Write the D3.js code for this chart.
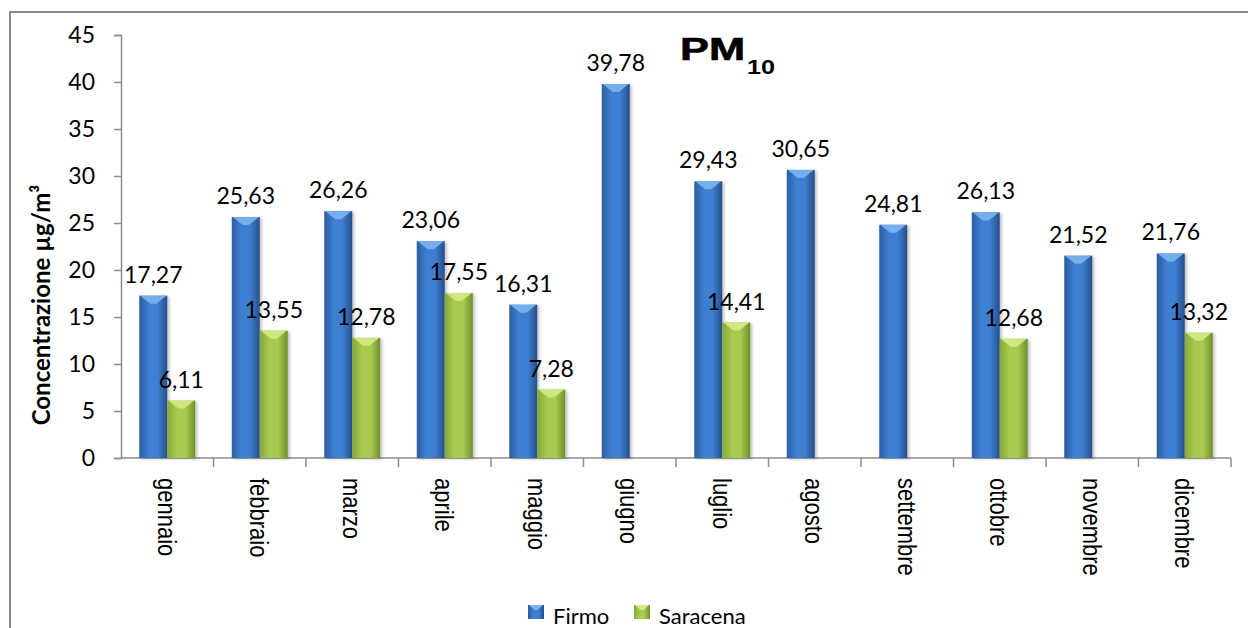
<!DOCTYPE html>
<html>
<head>
<meta charset="utf-8">
<script src="https://cdn.jsdelivr.net/npm/d3@7/dist/d3.min.js"></script>
<style>
  html, body { margin: 0; padding: 0; background: #fff; }
  svg { display: block; }
</style>
</head>
<body>
<script>
// Monthly PM10 concentrations (µg/m³) at two stations
const months = ["gennaio", "febbraio", "marzo", "aprile", "maggio", "giugno",
                "luglio", "agosto", "settembre", "ottobre", "novembre", "dicembre"];
const seriesNames = ["Firmo", "Saracena"];
const firmo = [17.27, 25.63, 26.26, 23.06, 16.31, 39.78, 29.43, 30.65, 24.81, 26.13, 21.52, 21.76];
const saracena = [6.11, 13.55, 12.78, 17.55, 7.28, null, 14.41, null, null, 12.68, null, 13.32];
const yTicks = [0, 5, 10, 15, 20, 25, 30, 35, 40, 45];

const W = 1248, H = 628;
const svg = d3.select("body").append("svg").attr("width", W).attr("height", H);

// gradients giving the bars a rounded, lit look
const defs = svg.append("defs");
const palettes = {
  Firmo:    { edgeL: "#2c5d9e", mid: "#3e7fd2", edgeR: "#264f8a", top: "#7db4ee" },
  Saracena: { edgeL: "#86a83a", mid: "#a8cb50", edgeR: "#6f8f2c", top: "#d3ea86" }
};
seriesNames.forEach(s => {
  const p = palettes[s];
  const g = defs.append("linearGradient").attr("id", "grad-" + s)
    .attr("x1", "0").attr("x2", "1").attr("y1", "0").attr("y2", "0");
  g.append("stop").attr("offset", "0%").attr("stop-color", p.edgeL);
  g.append("stop").attr("offset", "35%").attr("stop-color", p.mid);
  g.append("stop").attr("offset", "65%").attr("stop-color", p.mid);
  g.append("stop").attr("offset", "100%").attr("stop-color", p.edgeR);
});
const shadow = defs.append("filter").attr("id", "shadow")
  .attr("x", "-20%").attr("y", "-5%").attr("width", "150%").attr("height", "115%");
shadow.append("feDropShadow").attr("dx", 2).attr("dy", 1).attr("stdDeviation", 1.5)
  .attr("flood-color", "#000").attr("flood-opacity", 0.25);

// outer frame
svg.append("rect").attr("x", 10).attr("y", 12).attr("width", W).attr("height", H)
  .attr("fill", "none").attr("stroke", "#8a8a8a").attr("stroke-width", 2);

// scales
const x = d3.scaleBand().domain(months).range([121, 1231]).padding(0);
const step = x.bandwidth();
const groupW = 56;
const xSub = d3.scaleBand().domain(seriesNames)
  .range([(step - groupW) / 2, (step + groupW) / 2]).padding(0);
const y = d3.scaleLinear().domain([0, 45]).range([458, 35]);

const axisColor = "#8c8c8c";
const labelFont = "Lato, 'Open Sans', sans-serif";

// y axis
const yAxis = svg.append("g").attr("transform", "translate(121,0)")
  .call(d3.axisLeft(y).tickValues(yTicks).tickSize(7).tickPadding(19));
yAxis.select(".domain").attr("stroke", axisColor).attr("stroke-width", 1.5);
yAxis.selectAll(".tick line").attr("stroke", axisColor).attr("stroke-width", 1.5);
yAxis.selectAll(".tick text").attr("font-family", labelFont)
  .attr("font-size", 23).attr("fill", "#000");

// x axis with ticks at category boundaries
const xAxisG = svg.append("g").attr("transform", "translate(0,458)");
xAxisG.append("line").attr("x1", 121).attr("x2", 1231).attr("y1", 0).attr("y2", 0)
  .attr("stroke", axisColor).attr("stroke-width", 1.5);
xAxisG.selectAll("line.bt").data(months).join("line").attr("class", "bt")
  .attr("x1", d => x(d) + step).attr("x2", d => x(d) + step)
  .attr("y1", 0).attr("y2", 9).attr("stroke", axisColor).attr("stroke-width", 1.5);
xAxisG.selectAll("text").data(months).join("text")
  .attr("transform", d => `translate(${x(d) + step / 2},20) rotate(90) scale(1,1.2)`)
  .attr("dy", "0.35em").attr("text-anchor", "start")
  .attr("font-family", "'Liberation Sans', Arial, sans-serif").attr("font-size", 22)
  .attr("fill", "#000").text(d => d);

// bars
const rows = [];
months.forEach((m, i) => {
  rows.push({ month: m, series: "Firmo", value: firmo[i] });
  if (saracena[i] != null) rows.push({ month: m, series: "Saracena", value: saracena[i] });
});

const barG = svg.append("g");
const bars = barG.selectAll("g.bar").data(rows).join("g").attr("class", "bar");
bars.append("rect")
  .attr("x", d => x(d.month) + xSub(d.series))
  .attr("y", d => y(d.value))
  .attr("width", xSub.bandwidth())
  .attr("height", d => y(0) - y(d.value))
  .attr("fill", d => `url(#grad-${d.series})`)
  .attr("filter", "url(#shadow)");
// bevelled top
bars.append("path")
  .attr("d", d => {
    const x0 = x(d.month) + xSub(d.series), w = xSub.bandwidth(), y0 = y(d.value);
    return `M${x0 + 1},${y0} L${x0 + w - 1},${y0} L${x0 + w / 2 + 3},${y0 + 8} L${x0 + w / 2 - 3},${y0 + 8} Z`;
  })
  .attr("fill", d => palettes[d.series].top).attr("opacity", 0.9);

// value labels
const fmt = v => v.toFixed(2).replace(".", ",");
barG.selectAll("text.val").data(rows).join("text").attr("class", "val")
  .attr("x", d => x(d.month) + xSub(d.series) + xSub.bandwidth() / 2)
  .attr("y", d => y(d.value) - 13)
  .attr("text-anchor", "middle")
  .attr("font-family", labelFont).attr("font-size", 23)
  .attr("fill", "#000").text(d => fmt(d.value));

// y axis title
svg.append("text")
  .attr("transform", "translate(50,305) rotate(-90)")
  .attr("text-anchor", "middle")
  .attr("font-family", labelFont).attr("font-weight", "bold")
  .attr("font-size", 24).attr("fill", "#000")
  .text("Concentrazione µg/m³");

// chart title: "PM" with subscript "10"
const titleFont = "'Liberation Sans', Arial, sans-serif";
svg.append("text")
  .attr("transform", "translate(680,60) scale(1.4,1)")
  .attr("font-family", titleFont).attr("font-weight", "bold")
  .attr("font-size", 31).attr("fill", "#000")
  .attr("stroke", "#000").attr("stroke-width", 0.6).text("PM");
svg.append("text")
  .attr("transform", "translate(747,74) scale(1.2,1)")
  .attr("font-family", titleFont).attr("font-weight", "bold")
  .attr("font-size", 21).attr("fill", "#000").text("10");

// legend
const legend = svg.append("g").attr("transform", "translate(528,605)");
const lx = [0, 106];
seriesNames.forEach((s, i) => {
  const g = legend.append("g").attr("transform", `translate(${lx[i]},0)`);
  g.append("rect").attr("width", 16).attr("height", 14)
    .attr("fill", `url(#grad-${s})`);
  g.append("path").attr("d", "M1,0 L15,0 L9.5,5 L6.5,5 Z").attr("fill", palettes[s].top);
  g.append("text").attr("x", 25).attr("y", 19)
    .attr("font-family", labelFont).attr("font-size", 22)
    .attr("fill", "#000").text(s);
});
</script>
</body>
</html>
